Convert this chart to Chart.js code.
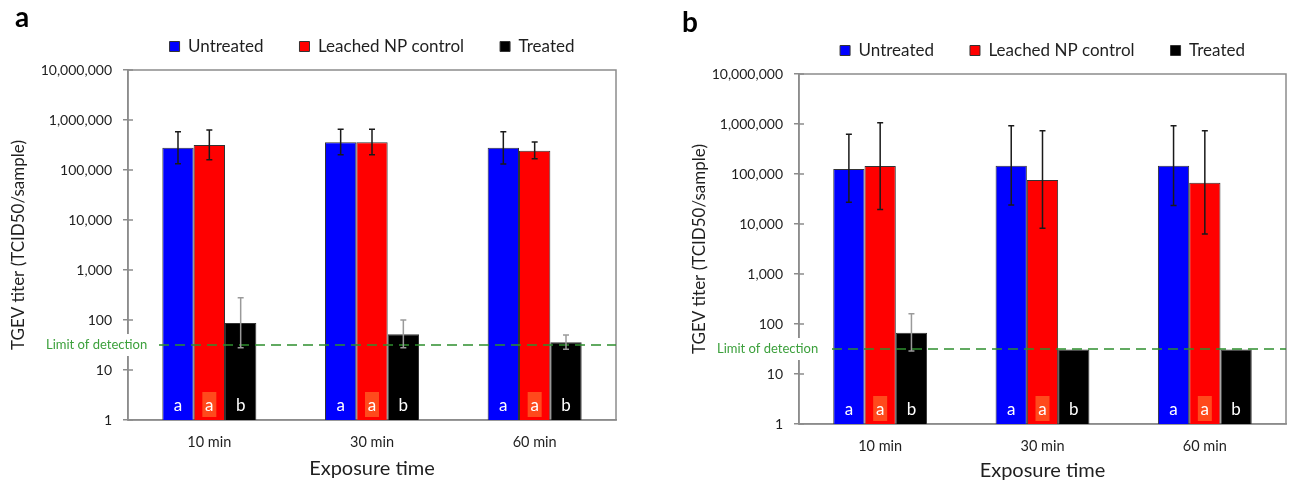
<!DOCTYPE html>
<html>
<head>
<meta charset="utf-8">
<script src="https://cdn.jsdelivr.net/npm/chart.js@4.4.1/dist/chart.umd.min.js"></script>
<style>
  body { margin: 0; background: #fff; width: 1295px; height: 483px; overflow: hidden; position: relative; }
  .panel { position: absolute; top: 0; }
  .tag { position: absolute; font: bold 28px Lato, "Open Sans", sans-serif; line-height: 28px; color: #000; }
</style>
</head>
<body>
<div class="panel" style="left:0"><canvas id="chartA" width="647" height="483"></canvas></div>
<div class="panel" style="left:647px"><canvas id="chartB" width="648" height="483"></canvas></div>
<div class="tag" style="left:15px; top:2px">a</div>
<div class="tag" style="left:682px; top:7px">b</div>
<script>
// categories and series
var categories = ["10 min", "30 min", "60 min"];
var seriesNames = ["Untreated", "Leached NP control", "Treated"];
var barColors = ["#0000ff", "#ff0000", "#000000"];
var yTicks = [1, 10, 100, 1000, 10000, 100000, 1000000, 10000000];
var lodValue = 31.6;
var sigLetters = [["a", "a", "a"], ["a", "a", "a"], ["b", "b", "b"]];

// panel a values (TCID50/sample) with upper / lower error bar ends
var aUntreated = [279000, 357000, 279000];
var aUntreatedHi = [583000, 651000, 583000];
var aUntreatedLo = [134000, 203000, 132000];
var aLeached = [316000, 357000, 244000];
var aLeachedHi = [631000, 651000, 363000];
var aLeachedLo = [161000, 203000, 168000];
var aTreated = [87, 52, 36];
var aTreatedHi = [279, 100, 50];
var aTreatedLo = [28, 28, 26];

// panel b values
var bUntreated = [126000, 147000, 147000];
var bUntreatedHi = [621000, 926000, 926000];
var bUntreatedLo = [27100, 24000, 23400];
var bLeached = [144500, 75900, 67000];
var bLeachedHi = [1064000, 736000, 736000];
var bLeachedLo = [19400, 8200, 6300];
var bTreated = [67, 31, 31];
var bTreatedHi = [161, null, null];
var bTreatedLo = [29, null, null];

var FONT = 'Lato, "Open Sans", sans-serif';
var TEXT = "#1f1f1f";
Chart.defaults.font.family = FONT;

// frame, error bars, limit of detection line, letters
var extras = {
  id: "extras",
  beforeDatasetsDraw: function (chart) {
    var ctx = chart.ctx, ca = chart.chartArea, y = chart.scales.y;
    ctx.save();
    ctx.strokeStyle = "#8c8c8c";
    ctx.lineWidth = 1.5;
    ctx.strokeRect(ca.left, ca.top, ca.right - ca.left, ca.bottom - ca.top);
    yTicks.forEach(function (v) {
      var py = y.getPixelForValue(v);
      ctx.beginPath();
      ctx.moveTo(ca.left, py);
      ctx.lineTo(ca.left + 5, py);
      ctx.stroke();
    });
    ctx.restore();
  },
  afterDatasetsDraw: function (chart, args, opts) {
    var ctx = chart.ctx, ca = chart.chartArea, y = chart.scales.y;
    ctx.save();
    // limit of detection
    var ly = y.getPixelForValue(opts.lod);
    ctx.strokeStyle = "#2e8f2e";
    ctx.lineWidth = 1.5;
    ctx.setLineDash([10, 6]);
    ctx.beginPath();
    ctx.moveTo(opts.lineX, ly);
    ctx.lineTo(ca.right, ly);
    ctx.stroke();
    ctx.setLineDash([]);

    // error bars
    chart.data.datasets.forEach(function (ds, i) {
      var meta = chart.getDatasetMeta(i);
      meta.data.forEach(function (bar, j) {
        var hi = opts.hi[i][j], lo = opts.lo[i][j];
        if (hi == null) return;
        var y1 = y.getPixelForValue(hi), y2 = y.getPixelForValue(lo);
        ctx.strokeStyle = i === 2 ? "#9a9a9a" : "#1a1a1a";
        ctx.lineWidth = 1.5;
        ctx.beginPath();
        ctx.moveTo(bar.x, y1); ctx.lineTo(bar.x, y2);
        ctx.moveTo(bar.x - 3, y1); ctx.lineTo(bar.x + 3, y1);
        ctx.moveTo(bar.x - 3, y2); ctx.lineTo(bar.x + 3, y2);
        ctx.stroke();
      });
    });

    // significance letters
    ctx.font = "17px " + FONT;
    ctx.textAlign = "center";
    ctx.textBaseline = "middle";
    chart.data.datasets.forEach(function (ds, i) {
      chart.getDatasetMeta(i).data.forEach(function (bar, j) {
        if (i === 1) {
          ctx.fillStyle = "#ff4a1c";
          ctx.fillRect(bar.x - 7, ca.bottom - 28, 14, 25);
        }
        ctx.fillStyle = "#ffffff";
        ctx.fillText(opts.letters[i][j], bar.x, ca.bottom - 14);
      });
    });
    ctx.restore();
  },
  afterDraw: function (chart, args, opts) {
    var ctx = chart.ctx, y = chart.scales.y;
    var ly = y.getPixelForValue(opts.lod);
    ctx.save();
    ctx.fillStyle = "#ffffff";
    ctx.fillRect(opts.textX - 2, ly - 11, opts.lineX - opts.textX - 2, 22);
    ctx.font = "13px " + FONT;
    ctx.fillStyle = "#3ca03c";
    ctx.textAlign = "left";
    ctx.textBaseline = "middle";
    ctx.fillText("Limit of detection", opts.textX, ly);
    ctx.restore();
  }
};

function buildChart(id, series, hi, lo, look) {
  return new Chart(document.getElementById(id), {
    type: "bar",
    data: {
      labels: categories,
      datasets: seriesNames.map(function (name, i) {
        return {
          label: name,
          data: series[i],
          backgroundColor: barColors[i],
          borderColor: "#333333",
          borderWidth: 1,
          categoryPercentage: 0.578,
          barPercentage: 1
        };
      })
    },
    options: {
      responsive: false,
      animation: false,
      layout: { padding: { top: look.top, right: look.right, left: 0, bottom: 0 } },
      plugins: {
        legend: {
          position: "top",
          fullSize: false,
          labels: { boxWidth: 10, boxHeight: 10, padding: 36, color: TEXT, font: { size: 17 } }
        },
        // thin spacer between legend and plot
        title: {
          display: true, text: "", fullSize: false, weight: 500,
          padding: { top: 0, bottom: look.gap - 1 }, font: { size: 1, lineHeight: 1 }
        },
        tooltip: { enabled: false },
        extras: { hi: hi, lo: lo, letters: sigLetters, lod: lodValue, textX: look.lodTextX, lineX: look.lodLineX }
      },
      scales: {
        x: {
          grid: { display: false, drawTicks: false },
          border: { color: "#8c8c8c", width: 1.5 },
          ticks: { padding: 14, color: TEXT, font: { size: 14.5 } },
          title: { display: true, text: "Exposure time", color: TEXT, font: { size: 20 }, padding: { top: 0, bottom: look.xtPad } },
          afterFit: function (s) { s.height = look.xh; }
        },
        y: {
          type: "logarithmic",
          min: 1,
          max: 10000000,
          afterBuildTicks: function (s) { s.ticks = yTicks.map(function (v) { return { value: v }; }); },
          ticks: {
            autoSkip: false, padding: 11, color: TEXT, font: { size: 14 },
            callback: function (v) { return Number(v).toLocaleString("en-US"); }
          },
          grid: { drawOnChartArea: false, tickLength: 5, color: "#8c8c8c", lineWidth: 1.5 },
          border: { color: "#8c8c8c", width: 1.5 },
          title: { display: true, text: "TGEV titer (TCID50/sample)", color: TEXT, font: { size: 17 }, padding: { top: look.ytPad, bottom: 0 } },
          afterFit: function (s) { s.width = look.yw; }
        }
      }
    },
    plugins: [extras]
  });
}

buildChart("chartA",
  [aUntreated, aLeached, aTreated],
  [aUntreatedHi, aLeachedHi, aTreatedHi],
  [aUntreatedLo, aLeachedLo, aTreatedLo],
  { top: 2, right: 31, gap: 5, xh: 63, xtPad: 2, yw: 128, ytPad: 8, lodTextX: 46, lodLineX: 159 });

buildChart("chartB",
  [bUntreated, bLeached, bTreated],
  [bUntreatedHi, bLeachedHi, bTreatedHi],
  [bUntreatedLo, bLeachedLo, bTreatedLo],
  { top: 6, right: 9, gap: 5, xh: 59, xtPad: 0, yw: 152, ytPad: 42, lodTextX: 70, lodLineX: 185 });
</script>
</body>
</html>
